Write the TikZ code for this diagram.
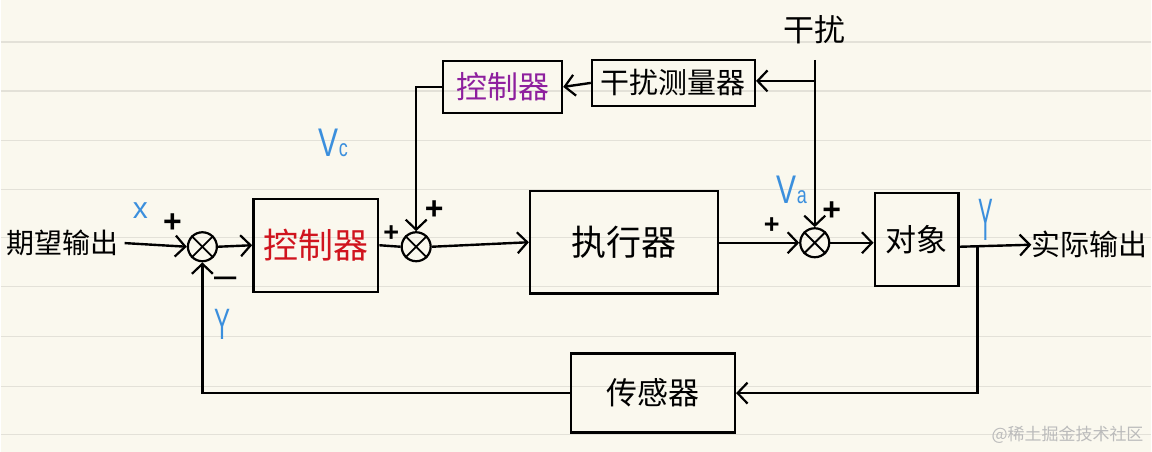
\documentclass[tikz,border=0pt]{standalone}
\usepackage{fontspec}
\newfontfamily\cjk{Noto Sans CJK SC}
\setsansfont{Liberation Sans}
\usetikzlibrary{arrows.meta}
\definecolor{paper}{HTML}{FAF8EE}
\definecolor{rule}{HTML}{E3E1D8}
\definecolor{penred}{HTML}{D0141E}
\definecolor{penpurple}{HTML}{8E1F9E}
\definecolor{penblue}{HTML}{3B8FDD}
\definecolor{wm}{HTML}{BBBBBB}
\tikzset{
  ln/.style={line width=2.4pt,black},
  arr/.style={ln,-{Straight Barb[length=10pt,width=21pt,line width=2.2pt]}},
  blk/.style={draw,line width=2.4pt,inner sep=0pt,font=\cjk},
  sumj/.style={draw,circle,line width=2.2pt,minimum size=29pt,inner sep=0pt},
  lbl/.style={inner sep=0pt,font=\cjk},
  sgn/.style={inner sep=0pt,font=\sffamily\bfseries\fontsize{32}{32}\selectfont},
  blu/.style={inner sep=0pt,text=penblue,font=\sffamily\fontsize{40}{40}\selectfont},
}
\begin{document}
\begin{tikzpicture}[x=1pt,y=-1pt]
\fill[paper] (0,0) rectangle (1152,452);
\foreach \yy in {42,91,141,190,238,287,337,387,435}
  \draw[rule,line width=1.2pt] (0,\yy) -- (1152,\yy);
\useasboundingbox (0,0) rectangle (1152,452);

% texts
\node[lbl,font=\cjk\fontsize{28}{28}\selectfont] (in) at (62,243) {期望输出};
\node[lbl,font=\cjk\fontsize{29}{29}\selectfont] (out) at (1090,245) {实际输出};
\node[lbl,font=\cjk\fontsize{31}{31}\selectfont] (dist) at (815,30) {干扰};

% blocks
\node[blk,minimum width=125pt,minimum height=93pt,text=penred,font=\cjk\fontsize{35}{35}\selectfont] (ctl) at (315.5,245.5) {控制器};
\node[blk,minimum width=119pt,minimum height=52pt,text=penpurple,font=\cjk\fontsize{31}{31}\selectfont] (tc) at (502.5,87) {控制器};
\node[blk,minimum width=163pt,minimum height=46pt,font=\cjk\fontsize{29}{29}\selectfont] (meas) at (673.5,83) {干扰测量器};
\node[blk,minimum width=188pt,minimum height=103pt,font=\cjk\fontsize{35}{35}\selectfont] (exe) at (624,242.5) {执行器};
\node[blk,minimum width=84pt,minimum height=93pt,font=\cjk\fontsize{31}{31}\selectfont] (obj) at (917,239.5) {对象};
\node[blk,minimum width=164pt,minimum height=79pt,font=\cjk\fontsize{31}{31}\selectfont] (sen) at (653,393.5) {传感器};

% summing junctions
\node[sumj] (s1) at (202,247) {};
\node[sumj] (s2) at (416,247) {};
\node[sumj] (s3) at (815,243) {};
\foreach \s in {s1,s2,s3}{
  \draw[line width=1.8pt] (\s.45) -- (\s.225);
  \draw[line width=1.8pt] (\s.135) -- (\s.315);
}

% helper coordinates
\coordinate (dtop) at (815,60);
\coordinate (dj) at (815,81);
\coordinate (fb) at (978,247);

% connectors
\draw[arr,shorten <=6pt] (in.east) -- (s1.west);
\draw[arr] (s1.east) -- (ctl.west);
\draw[ln] (ctl.east) -- (s2.west);
\draw[arr] (tc.west) -| (s2.north);
\draw[arr] (meas.west) -- (tc.east);
\draw[arr] (dj) -- (meas.east |- dj);
\draw[arr] (dtop) -- (s3.north);
\draw[arr] (s2.east) -- (exe.west);
\draw[arr] (exe.east |- s3) -- (s3.west);
\draw[arr] (s3.east) -- (obj.west |- s3);
\draw[arr] (obj.east |- fb) -- (out.west);
\draw[arr] (fb) |- (sen.east);
\draw[arr] (sen.west) -| (s1.south);

% signs
\node[sgn] (p1) at (172,223) {+};
\node[sgn,font=\sffamily\fontsize{40}{40}\selectfont] (m1) at (225,283) {–};
\node[sgn,font=\sffamily\bfseries\fontsize{27}{27}\selectfont] (p2) at (391,234) {+};
\node[sgn] (p3) at (434,210) {+};
\node[sgn,font=\sffamily\bfseries\fontsize{27}{27}\selectfont] (p4) at (772,226) {+};
\node[sgn] (p5) at (832,211) {+};

% blue labels
\node[blu,font=\sffamily\fontsize{30}{30}\selectfont] (lx) at (140,211) {x};
\node[blu,xscale=0.75] (lvc) at (333,143) {V\fontsize{24}{24}\selectfont c};
\node[blu,xscale=0.75] (lva) at (792,190) {V\fontsize{24}{24}\selectfont a};
\node[blu,xscale=0.55,yscale=1.5] (ly1) at (986,220) {Y};
\node[blu,xscale=0.6,yscale=1.1] (ly2) at (222,325) {Y};

% watermark
\node[lbl,text=wm,font=\cjk\fontsize{17}{17}\selectfont] (wmk) at (1068,435) {@稀土掘金技术社区};
\end{tikzpicture}
\end{document}
